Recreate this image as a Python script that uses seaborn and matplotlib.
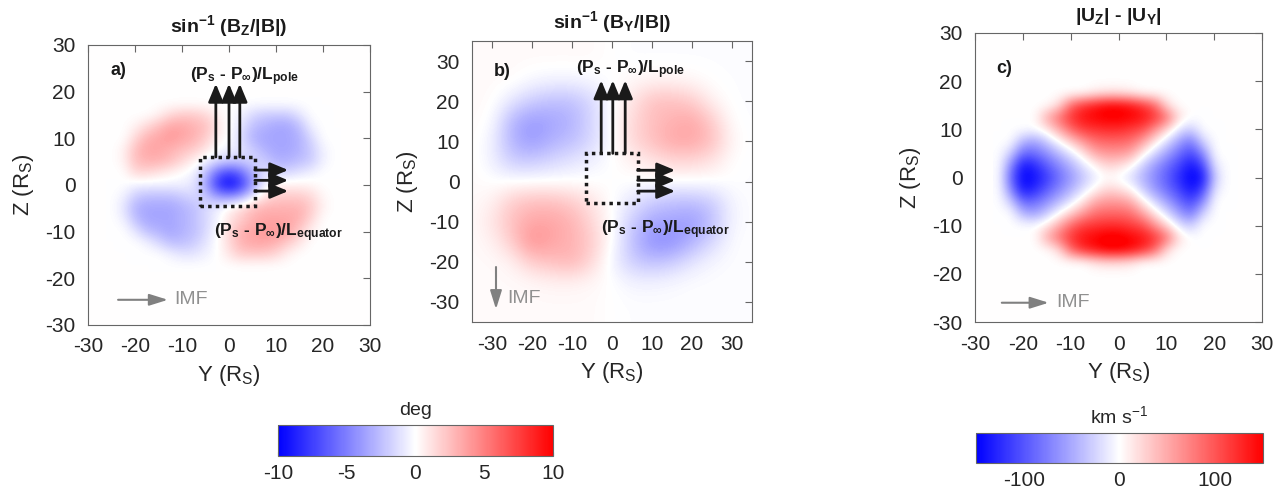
import numpy as np
import matplotlib
matplotlib.use('Agg')
import matplotlib.pyplot as plt
from matplotlib.colors import Normalize
import seaborn as sns
from matplotlib.patches import Rectangle

# ---------------- data (grids) ----------------
# panel a: sin^-1(Bz/|B|) [deg]; rows Z = 17.5 .. -17.5, cols Y = -25 .. 22.5 (step 2.5)
y_a = [-25, -22.5, -20, -17.5, -15, -12.5, -10, -7.5, -5, -2.5, 0,
       2.5, 5, 7.5, 10, 12.5, 15, 17.5, 20, 22.5]
z_a = [17.5, 15, 12.5, 10, 7.5, 5, 2.5, 0, -2.5, -5, -7.5, -10, -12.5, -15, -17.5]
bz_angle = [
    [0, 0, 0, 0, 0, 0, 0, 0, 0, 0, 0, 0, 0, 0, 0, 0, 0, 0, 0, 0],
    [0, 0, 0, 0, 0.5, 1.5, 2, 2, 1.5, 0.5, 0, -0.5, -1.5, -2, -2, -2, -1, 0, 0, 0],
    [0, 0, 0.5, 1.5, 2.5, 3.5, 3.5, 3, 2.5, 1, 0, -1, -2.5, -3, -3.5, -3.5, -2.5, -0.5, 0, 0],
    [0, 0, 1.5, 3, 3.5, 4, 3.5, 3, 2, 0.5, 0, -1.5, -3, -3.5, -3.5, -3.5, -3, -1.5, 0, 0],
    [0, 0.5, 2.5, 3.5, 3.5, 3, 2.5, 2, 1, 0, -0.5, -1, -2, -3, -3.5, -3.5, -3, -2, -0.5, 0],
    [0, 0.5, 2.5, 3, 3, 2.5, 1.5, 0.5, -0.5, -1.5, -2, -2, -1.5, -2, -3, -3, -2.5, -2, -0.5, 0],
    [0, 0, 1.5, 1.5, 1, 0.5, 0, -0.5, -2.5, -6, -7.5, -6, -3, -1, -1.5, -1.5, -1, -0.5, 0, 0],
    [0, 0, -0.5, -0.5, -0.5, -0.5, -0.5, -1, -3.5, -8, -10, -8, -4, -0.5, 0.5, 0.5, 0.5, 0.3, 0, 0],
    [0, -0.5, -2, -2.5, -2.5, -2.5, -2, -1.5, -2, -4, -4.5, -3.5, -1, 1, 2, 2, 2, 1.5, 0.3, 0],
    [0, -1, -3, -3.5, -3.5, -3.5, -3, -2.5, -1.5, -0.5, 0.5, 1.5, 2.5, 3, 3, 3, 3, 2, 0.5, 0],
    [0, -0.5, -2.5, -3.5, -3.5, -3.5, -3, -2.5, -1.5, -0.5, 1, 2, 3, 3.5, 3.5, 3.5, 3, 1.5, 0, 0],
    [0, 0, -1, -2.5, -3, -3.5, -3, -2.5, -1.5, 0, 1.5, 3, 3.5, 4, 4, 3.5, 2, 0.5, 0, 0],
    [0, 0, 0, -0.5, -1.5, -2.5, -2.5, -2, -1, 0, 1.5, 3, 3.5, 3.5, 3, 2, 1, 0, 0, 0],
    [0, 0, 0, 0, 0, -0.5, -1, -1, -0.5, 0, 1, 2, 2, 2, 1.5, 0.5, 0, 0, 0, 0],
    [0, 0, 0, 0, 0, 0, 0, 0, 0, 0, 0, 0, 0, 0, 0, 0, 0, 0, 0, 0],
]

# panel b: sin^-1(By/|B|) [deg]; rows Z = 35 .. -35, cols Y = -35 .. 35 (step 5)
y_b = [-35, -30, -25, -20, -15, -10, -5, 0, 5, 10, 15, 20, 25, 30, 35]
z_b = [35, 30, 25, 20, 15, 10, 5, 0, -5, -10, -15, -20, -25, -30, -35]
by_angle = [
    [0.2, 0.2, 0.2, 0.2, 0.2, 0.2, 0.2, 0, -0.1, -0.1, -0.1, -0.1, -0.1, -0.1, -0.1],
    [0.2, 0.2, 0.2, 0.2, 0.2, 0.2, 0.2, 0, -0.1, -0.1, -0.1, -0.1, -0.1, -0.1, -0.1],
    [0.2, 0.2, 0.2, -0.3, -0.5, -0.5, -0.3, 0, 0.3, 0.5, 0.5, 0.3, 0, -0.1, -0.1],
    [0.2, 0.2, -1, -2, -2.5, -2.5, -1.5, 0, 1, 2.5, 2.5, 2, 0.5, -0.1, -0.1],
    [0.2, 0, -3, -4, -3.5, -3, -1.5, 0, 1.5, 2.5, 3, 3.5, 2, 0, -0.1],
    [0.2, -0.5, -3, -4, -3, -2.5, -1.5, 0, 1.5, 2.5, 3.5, 3.5, 2.5, 0.3, -0.1],
    [0.2, -0.5, -2, -2, -1.5, -1, -0.5, 0, 0.5, 1, 1.5, 1.5, 1, 0, -0.1],
    [0.2, 0, 0, 0, 0, 0, 0, 0, 0, 0, 0, 0, 0, 0, -0.1],
    [0.2, 0.5, 2, 2.5, 2.5, 2, 1, 0, -1, -2, -2.5, -2.5, -2, -0.3, -0.1],
    [0.2, 1, 2.5, 3.5, 3.5, 3, 1.5, 0, -2, -3.5, -3.5, -4, -2.5, -0.3, -0.1],
    [0.2, 0.5, 2, 4.5, 3.5, 3, 2, 0, -2.5, -4.5, -4.5, -3, -1.5, -0.1, -0.1],
    [0.2, 0.2, 0.5, 2, 2.5, 3, 1.5, -0.5, -2, -2.5, -2, -1, -0.3, -0.1, -0.1],
    [0.2, 0.2, 0.2, 0.3, 0.5, 0.5, 0.3, 0, -0.5, -0.5, -0.3, -0.1, -0.1, -0.1, -0.1],
    [0.2, 0.2, 0.2, 0.2, 0.2, 0.2, 0.2, 0, -0.1, -0.1, -0.1, -0.1, -0.1, -0.1, -0.1],
    [0.2, 0.2, 0.2, 0.2, 0.2, 0.2, 0.2, 0, -0.1, -0.1, -0.1, -0.1, -0.1, -0.1, -0.1],
]

# panel c: |Uz| - |Uy| [km/s]; rows Z = 20 .. -20, cols Y = -25 .. 25 (step 2.5)
y_c = [-25, -22.5, -20, -17.5, -15, -12.5, -10, -7.5, -5, -2.5, 0,
       2.5, 5, 7.5, 10, 12.5, 15, 17.5, 20, 22.5, 25]
z_c = [20, 17.5, 15, 12.5, 10, 7.5, 5, 2.5, 0, -2.5, -5, -7.5, -10, -12.5, -15, -17.5, -20]
du_speed = [
    [0, 0, 0, 0, 0, 0, 0, 0, 0, 0, 0, 0, 0, 0, 0, 0, 0, 0, 0, 0, 0],
    [0, 0, 0, 0, 0, 0, 0, 0, 10, 15, 15, 10, 0, 0, 0, 0, 0, 0, 0, 0, 0],
    [0, 0, 0, 0, 0, 20, 90, 120, 135, 150, 150, 140, 120, 90, 20, 0, 0, 0, 0, 0, 0],
    [0, 0, 0, 0, 50, 85, 120, 140, 150, 155, 155, 150, 140, 120, 85, 20, 0, 0, 0, 0, 0],
    [0, 0, 0, 0, 15, 50, 90, 115, 120, 125, 125, 115, 105, 65, 25, -15, -30, 0, 0, 0, 0],
    [0, 0, -45, -55, -30, 0, 30, 60, 85, 90, 90, 85, 55, 15, -20, -55, -80, -25, 0, 0, 0],
    [0, -30, -90, -85, -65, -40, -15, 15, 50, 60, 60, 50, 10, -25, -55, -85, -110, -70, 0, 0, 0],
    [0, -70, -140, -125, -95, -70, -45, -18, 5, 25, 20, 5, -30, -60, -85, -110, -140, -110, -15, 0, 0],
    [0, -90, -150, -140, -115, -85, -60, -35, -12, 0, -5, -20, -45, -70, -95, -125, -150, -140, -30, 0, 0],
    [0, -70, -140, -125, -95, -70, -45, -18, 5, 25, 20, 5, -30, -60, -85, -110, -140, -110, -15, 0, 0],
    [0, -30, -90, -85, -65, -40, -15, 15, 50, 60, 60, 50, 10, -25, -55, -85, -110, -70, 0, 0, 0],
    [0, 0, -45, -55, -30, 0, 30, 60, 85, 90, 90, 85, 55, 15, -20, -55, -80, -25, 0, 0, 0],
    [0, 0, 0, 0, 15, 50, 90, 115, 120, 125, 125, 115, 105, 65, 25, -15, -30, 0, 0, 0, 0],
    [0, 0, 0, 0, 50, 85, 120, 140, 150, 160, 160, 150, 140, 120, 85, 20, 0, 0, 0, 0, 0],
    [0, 0, 0, 0, 0, 20, 90, 125, 140, 155, 155, 145, 125, 90, 20, 0, 0, 0, 0, 0, 0],
    [0, 0, 0, 0, 0, 0, 0, 0, 15, 20, 20, 15, 0, 0, 0, 0, 0, 0, 0, 0, 0],
    [0, 0, 0, 0, 0, 0, 0, 0, 0, 0, 0, 0, 0, 0, 0, 0, 0, 0, 0, 0, 0],
]

axis_ticks = [-30, -20, -10, 0, 10, 20, 30]
deg_ticks = [-10, -5, 0, 5, 10]
speed_ticks = [-100, 0, 100]

# ---------------- style ----------------
sns.set_theme(style='white')
plt.rcParams['font.family'] = ['Liberation Sans', 'DejaVu Sans']
plt.rcParams['mathtext.fontset'] = 'custom'
plt.rcParams['mathtext.rm'] = 'Liberation Sans'
plt.rcParams['mathtext.it'] = 'Liberation Sans:italic'
plt.rcParams['mathtext.bf'] = 'Liberation Sans:bold'
plt.rcParams['axes.unicode_minus'] = False

cmap = sns.blend_palette(['#0000ff', '#ffffff', '#ff0000'], as_cmap=True)
TXT = '#262626'
SPN = '#666666'
TICK_FS = 15

W, H = 1277, 500
fig = plt.figure(figsize=(W / 100, H / 100), dpi=100)


def px_axes(x0, y0, x1, y1):
    return fig.add_axes([x0 / W, 1 - y1 / H, (x1 - x0) / W, (y1 - y0) / H])


def field_panel(ax, grid, ys, zs, vmin, vmax, lim, title):
    sy = abs(ys[1] - ys[0])
    sz = abs(zs[1] - zs[0])
    ext = [min(ys) - sy / 2, max(ys) + sy / 2, min(zs) - sz / 2, max(zs) + sz / 2]
    ax.set_facecolor(cmap(Normalize(vmin, vmax)(0.0)))
    im = ax.imshow(np.array(grid, dtype=float), cmap=cmap, vmin=vmin, vmax=vmax,
                   extent=ext, origin='upper', interpolation='bicubic',
                   interpolation_stage='data', aspect='auto')
    ax.set_xlim(-lim, lim)
    ax.set_ylim(-lim, lim)
    ax.set_xticks(axis_ticks)
    ax.set_yticks(axis_ticks)
    ax.tick_params(direction='in', top=True, right=True, length=5, width=0.8,
                   color=SPN, labelsize=TICK_FS, labelcolor=TXT, pad=9)
    for s in ax.spines.values():
        s.set_visible(True)
        s.set_color(SPN)
        s.set_linewidth(0.8)
    ax.set_xlabel(r'Y (R$_\mathregular{S}$)', fontsize=16, color=TXT, labelpad=5)
    ax.set_ylabel(r'Z (R$_\mathregular{S}$)', fontsize=16, color=TXT, labelpad=7)
    ax.set_title(title, fontsize=14, color='k', pad=9)
    return im


def arrow(ax, start, end, color='k', lw=2.0, head='-|>,head_length=0.6,head_width=0.25', ms=18):
    ax.annotate('', xy=end, xytext=start,
                arrowprops=dict(arrowstyle=head, color=color, lw=lw, mutation_scale=ms,
                                shrinkA=0, shrinkB=0))


pole_txt = r'$\mathbf{(P_s}$ - $\mathbf{P_\infty)/L_{pole}}$'
eq_txt = r'$\mathbf{(P_s}$ - $\mathbf{P_\infty)/L_{equator}}$'
ANN_FS = 12.5

# ---------------- panel a ----------------
ax_a = px_axes(88, 45, 370, 325)
im_a = field_panel(ax_a, bz_angle, y_a, z_a, -10, 10, 30,
                   r'$\mathbf{sin^{-1}\ (B_Z/|B|)}$')
ax_a.text(-25.3, 24.5, 'a)', fontsize=13, fontweight='bold', color='k', va='center')
for xv in (-2.8, 0, 2.3):
    arrow(ax_a, (xv, 6.0), (xv, 21.7))
for zv in (3.2, 1.0, -1.3):
    arrow(ax_a, (5.5, zv), (12.6, zv))
ax_a.add_patch(Rectangle((-6.1, -4.5), 11.6, 10.5, fill=False, ec='k', lw=2.5, ls=(0, (1, 1.2))))
ax_a.text(-8.3, 23.3, pole_txt, fontsize=ANN_FS, fontweight='bold', color='k', va='center')
ax_a.text(-3.2, -10.2, eq_txt, fontsize=ANN_FS, fontweight='bold', color='k', va='center')
arrow(ax_a, (-23.6, -24.6), (-13.0, -24.6), color='#808080', lw=1.5,
      head='-|>,head_length=0.8,head_width=0.25', ms=14)
ax_a.text(-11.6, -24.6, 'IMF', fontsize=14, color='#909090', va='center')

# ---------------- panel b ----------------
ax_b = px_axes(472, 41, 752, 322)
im_b = field_panel(ax_b, by_angle, y_b, z_b, -10, 10, 35,
                   r'$\mathbf{sin^{-1}\ (B_Y/|B|)}$')
ax_b.text(-29.5, 27.3, 'b)', fontsize=13, fontweight='bold', color='k', va='center')
for xv in (-2.7, 0.2, 3.3):
    arrow(ax_b, (xv, 7.0), (xv, 25.2))
for zv in (2.8, 0.3, -2.4):
    arrow(ax_b, (6.4, zv), (15.8, zv))
ax_b.add_patch(Rectangle((-6.6, -5.4), 13.0, 12.4, fill=False, ec='k', lw=2.5, ls=(0, (1, 1.2))))
ax_b.text(-9.0, 27.8, pole_txt, fontsize=ANN_FS, fontweight='bold', color='k', va='center')
ax_b.text(-2.8, -12.0, eq_txt, fontsize=ANN_FS, fontweight='bold', color='k', va='center')
arrow(ax_b, (-29.0, -21.3), (-29.0, -31.8), color='#808080', lw=1.5,
      head='-|>,head_length=0.8,head_width=0.25', ms=14)
ax_b.text(-26.3, -29.2, 'IMF', fontsize=14, color='#909090', va='center')

# ---------------- panel c ----------------
ax_c = px_axes(975, 33, 1262, 322)
im_c = field_panel(ax_c, du_speed, y_c, z_c, -150, 150, 30,
                   r'$\mathbf{|U_Z|}$ - $\mathbf{|U_Y|}$')
ax_c.title.set_fontweight('bold')
ax_c.text(-25.5, 22.7, 'c)', fontsize=13, fontweight='bold', color='k', va='center')
arrow(ax_c, (-24.4, -26.0), (-14.6, -26.0), color='#808080', lw=1.5,
      head='-|>,head_length=0.8,head_width=0.25', ms=14)
ax_c.text(-13.1, -26.0, 'IMF', fontsize=14, color='#909090', va='center')

# ---------------- colorbars ----------------
def style_cbar(cb, ticks, label):
    cax = cb.ax
    cb.set_ticks(ticks)
    cb.set_ticklabels([str(t) for t in ticks])
    cax.tick_params(direction='in', length=3, width=0.8, color=SPN, labelsize=TICK_FS,
                    labelcolor=TXT, pad=6)
    cb.outline.set_edgecolor(SPN)
    cb.outline.set_linewidth(0.8)
    cax.set_title(label, fontsize=14, color=TXT, pad=7)


cax1 = px_axes(278, 425, 553, 456)
cb1 = fig.colorbar(im_a, cax=cax1, orientation='horizontal')
style_cbar(cb1, deg_ticks, 'deg')

cax2 = px_axes(976, 433, 1263, 463)
cb2 = fig.colorbar(im_c, cax=cax2, orientation='horizontal')
style_cbar(cb2, speed_ticks, r'km s$^{-1}$')

fig.savefig('out.png', dpi=100)
